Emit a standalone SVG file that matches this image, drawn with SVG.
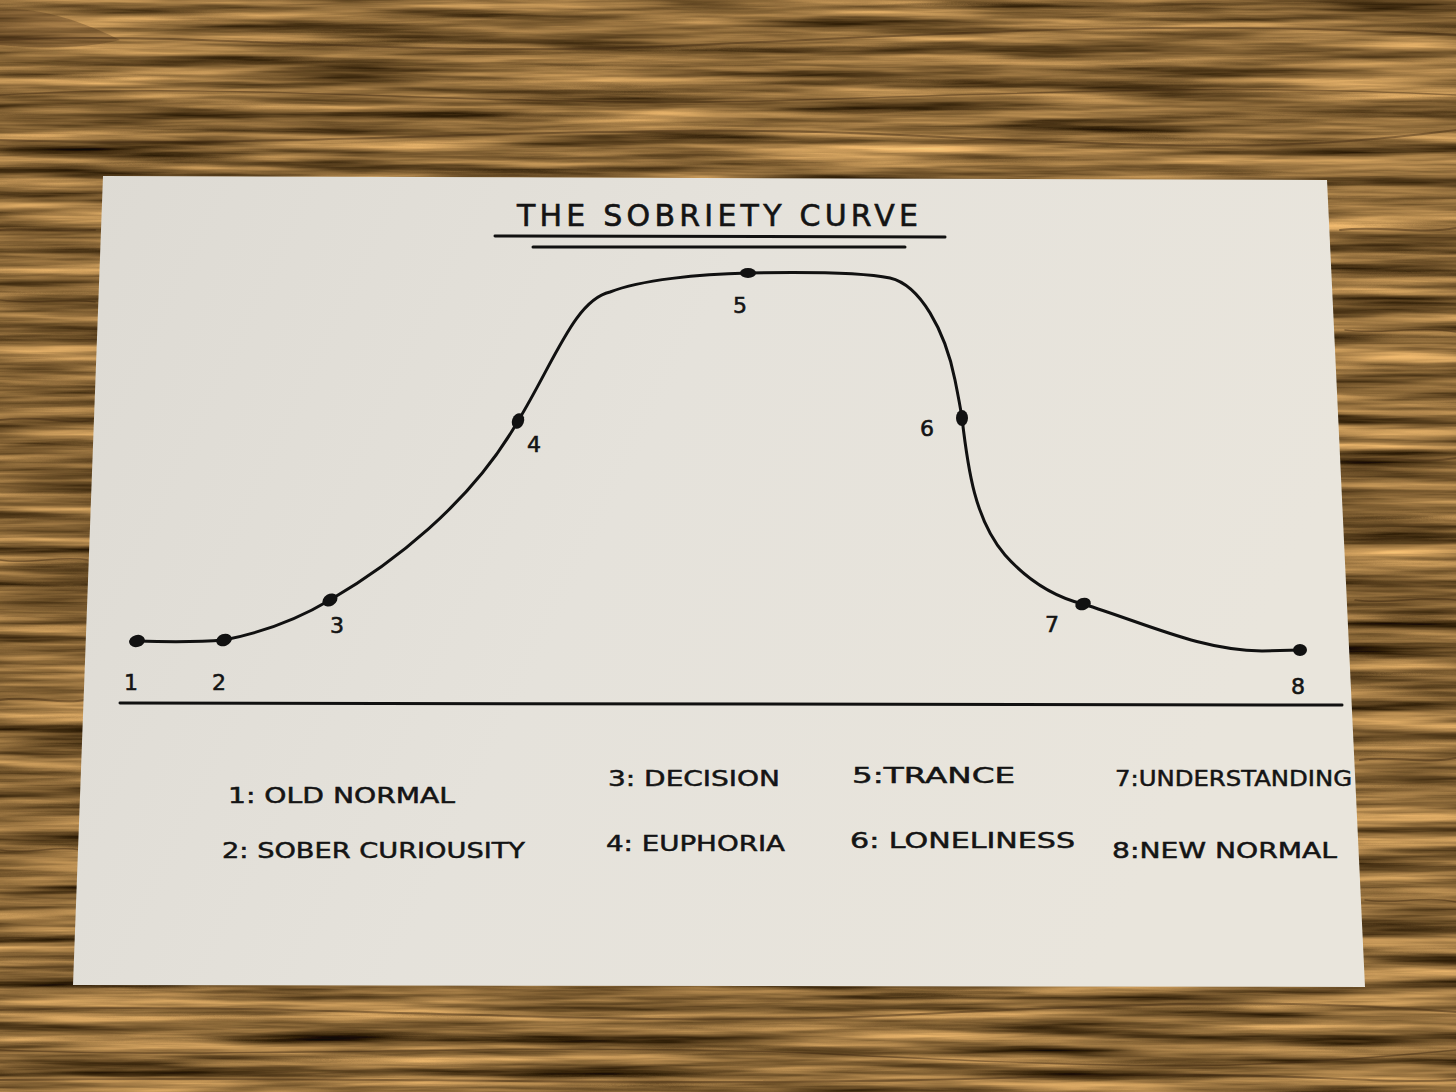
<svg xmlns="http://www.w3.org/2000/svg" width="1456" height="1092" viewBox="0 0 1456 1092">
<defs>
<filter id="wood" x="0" y="0" width="100%" height="100%" color-interpolation-filters="sRGB">
<feTurbulence type="fractalNoise" baseFrequency="0.004 0.09" numOctaves="4" seed="7"/>
<feColorMatrix type="matrix" values="1.3 0 0 0 -0.12  1.05 0 0 0 -0.13  0.7 0 0 0 -0.14  0 0 0 0 1"/>
</filter>
<linearGradient id="paperg" x1="0" y1="0" x2="1" y2="0.3">
<stop offset="0" stop-color="#dddad3"/>
<stop offset="0.5" stop-color="#e5e2db"/>
<stop offset="1" stop-color="#e9e5dc"/>
</linearGradient>
<style>
.ink{fill:none;stroke:#111;stroke-width:3;stroke-linecap:round;stroke-linejoin:round}
.dot{fill:#111}
.lbl{font-family:"DejaVu Sans","Liberation Sans",sans-serif;fill:#141414;stroke:#141414;stroke-width:0.6;font-size:22px}
.leg{font-family:"DejaVu Sans","Liberation Sans",sans-serif;fill:#141414;stroke:#141414;stroke-width:0.5;font-size:21px}
.grain{fill:none;stroke:#3e2812;stroke-linecap:round}
</style>
</defs>
<g id="background">
<rect width="1456" height="1092" fill="#8a6a40"/>
<rect width="1456" height="1092" filter="url(#wood)" opacity="0.9"/>
<g class="grain" opacity="0.45">
<path d="M0,40 C200,30 400,60 700,45 S1200,20 1456,35" stroke-width="2"/>
<path d="M0,95 C250,80 500,110 800,100 S1250,85 1456,95" stroke-width="1.5"/>
<path d="M0,140 C300,150 600,120 900,135 S1300,150 1456,130" stroke-width="2"/>
<path d="M0,230 C30,228 60,232 95,230" stroke-width="2"/>
<path d="M0,300 C40,305 70,298 95,302" stroke-width="1.5"/>
<path d="M0,420 C40,415 70,425 92,420" stroke-width="2"/>
<path d="M0,560 C30,565 60,555 88,560" stroke-width="1.5"/>
<path d="M0,700 C30,695 60,705 85,700" stroke-width="2"/>
<path d="M0,850 C30,855 55,845 80,850" stroke-width="1.5"/>
<path d="M1340,230 C1380,225 1420,235 1456,228" stroke-width="2"/>
<path d="M1345,330 C1380,335 1420,325 1456,332" stroke-width="1.5"/>
<path d="M1350,460 C1390,455 1420,465 1456,458" stroke-width="2"/>
<path d="M1355,600 C1390,605 1420,595 1456,600" stroke-width="1.5"/>
<path d="M1360,760 C1390,755 1425,765 1456,758" stroke-width="2"/>
<path d="M1365,900 C1395,905 1425,895 1456,902" stroke-width="1.5"/>
<path d="M0,1010 C300,1000 600,1030 900,1015 S1300,1000 1456,1012" stroke-width="2"/>
<path d="M0,1050 C250,1060 550,1040 850,1055 S1250,1070 1456,1050" stroke-width="1.5"/>
<path d="M0,1080 C300,1075 700,1088 1000,1078 S1350,1085 1456,1080" stroke-width="2"/>
</g>
<path d="M0,10 C40,5 90,25 120,40 C80,50 30,48 0,45 Z" fill="#3a2410" opacity="0.3"/>
</g>
<g id="paper">
<polygon points="103,176 1327,180 1365,987 73,985" fill="url(#paperg)"/>
</g>
<g id="title">
<text x="517" y="226" font-family="DejaVu Sans, Liberation Sans, sans-serif" font-size="30" fill="#141414" stroke="#141414" stroke-width="0.6" textLength="401" lengthAdjust="spacing">THE SOBRIETY CURVE</text>
</g>
<g id="connectors">
<line class="ink" x1="495" y1="236" x2="945" y2="237"/>
<line class="ink" x1="533" y1="247" x2="905" y2="247"/>
<path class="ink" d="M137,641 C170,642 200,642 224,640 C265,632 300,618 330,600 C390,565 470,505 518,421 C555,360 575,300 610,292 C640,280 700,274 748,273 C800,272 860,272 890,278 C920,285 945,330 955,380 C958,395 960,405 962,418 C968,470 975,520 1005,555 C1030,583 1055,597 1083,604 C1150,625 1200,650 1262,651 L1300,650"/>
<line class="ink" x1="120" y1="703" x2="1342" y2="705" stroke-width="2.5"/>
</g>
<g id="node1"><ellipse class="dot" cx="137" cy="641" rx="8" ry="6" transform="rotate(-15 137 641)"/><text class="lbl" x="124" y="690">1</text></g>
<g id="node2"><ellipse class="dot" cx="224" cy="640" rx="8" ry="6" transform="rotate(-20 224 640)"/><text class="lbl" x="212" y="690">2</text></g>
<g id="node3"><ellipse class="dot" cx="330" cy="600" rx="8" ry="6" transform="rotate(-30 330 600)"/><text class="lbl" x="330" y="633">3</text></g>
<g id="node4"><ellipse class="dot" cx="518" cy="421" rx="6" ry="8" transform="rotate(20 518 421)"/><text class="lbl" x="527" y="452">4</text></g>
<g id="node5"><ellipse class="dot" cx="748" cy="273" rx="8" ry="5"/><text class="lbl" x="733" y="313">5</text></g>
<g id="node6"><ellipse class="dot" cx="962" cy="418" rx="6" ry="8"/><text class="lbl" x="920" y="436">6</text></g>
<g id="node7"><ellipse class="dot" cx="1083" cy="604" rx="8" ry="6" transform="rotate(-20 1083 604)"/><text class="lbl" x="1045" y="632">7</text></g>
<g id="node8"><ellipse class="dot" cx="1300" cy="650" rx="7" ry="6"/><text class="lbl" x="1291" y="694">8</text></g>
<g id="legend">
<text class="leg" x="228" y="803" textLength="227" lengthAdjust="spacingAndGlyphs">1: OLD NORMAL</text>
<text class="leg" x="222" y="858" textLength="303" lengthAdjust="spacingAndGlyphs">2: SOBER CURIOUSITY</text>
<text class="leg" x="608" y="786" textLength="172" lengthAdjust="spacingAndGlyphs">3: DECISION</text>
<text class="leg" x="606" y="851" textLength="179" lengthAdjust="spacingAndGlyphs">4: EUPHORIA</text>
<text class="leg" x="852" y="783" textLength="163" lengthAdjust="spacingAndGlyphs">5:TRANCE</text>
<text class="leg" x="850" y="848" textLength="225" lengthAdjust="spacingAndGlyphs">6: LONELINESS</text>
<text class="leg" x="1115" y="786" textLength="237" lengthAdjust="spacingAndGlyphs">7:UNDERSTANDING</text>
<text class="leg" x="1112" y="858" textLength="225" lengthAdjust="spacingAndGlyphs">8:NEW NORMAL</text>
</g>
</svg>
